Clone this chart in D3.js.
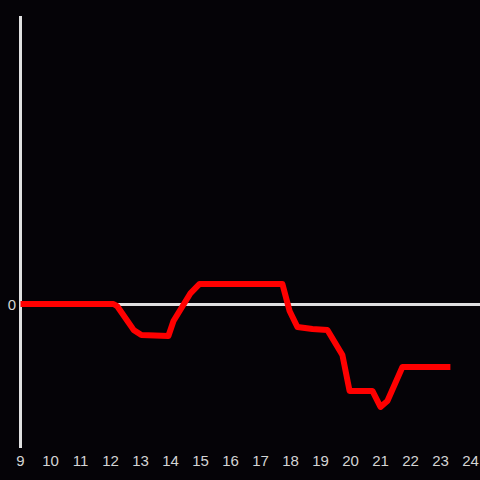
<!DOCTYPE html>
<html>
<head>
<meta charset="utf-8">
<script src="https://cdn.jsdelivr.net/npm/d3@7"></script>
<style>
  html, body { margin: 0; padding: 0; background: #050307; }
  svg { display: block; }
</style>
</head>
<body>
<svg id="chart" width="480" height="480"></svg>
<script>
// hours of day
const hours = [9, 12.1, 12.22, 12.77, 13.03, 13.93, 14.1, 14.67, 14.97, 17.73, 17.97, 18.23, 18.73, 19.23, 19.73, 19.97, 20.73, 21.0, 21.23, 21.73, 23.33];
// values
const values = [0, 0, -0.014, -0.18, -0.215, -0.222, -0.118, 0.076, 0.139, 0.139, -0.049, -0.16, -0.174, -0.18, -0.354, -0.604, -0.604, -0.715, -0.674, -0.4375, -0.4375];
const xTicks = [9, 10, 11, 12, 13, 14, 15, 16, 17, 18, 19, 20, 21, 22, 23, 24];
const yTicks = [0];

const svg = d3.select('#chart');

const x = d3.scaleLinear().domain([9, 24]).range([20.5, 470.5]);
const y = d3.scaleLinear().domain([-1, 2]).range([448, 16]);

const axisColor = '#e0e0e0';
const textColor = '#d4d4d4';
const font = 'Liberation Sans, Arial, sans-serif';

// zero line
svg.append('line')
  .attr('x1', x(9))
  .attr('x2', 480)
  .attr('y1', y(0) + 0.5)
  .attr('y2', y(0) + 0.5)
  .attr('stroke', axisColor)
  .attr('stroke-width', 3);

// y axis line
svg.append('line')
  .attr('x1', x(9))
  .attr('x2', x(9))
  .attr('y1', y(2))
  .attr('y2', y(-1))
  .attr('stroke', axisColor)
  .attr('stroke-width', 3);

// x tick labels
svg.append('g')
  .selectAll('text')
  .data(xTicks)
  .enter()
  .append('text')
  .attr('x', d => x(d))
  .attr('y', 466)
  .attr('text-anchor', 'middle')
  .attr('font-family', font)
  .attr('font-size', '15px')
  .attr('fill', textColor)
  .text(d => d);

// y tick labels
svg.append('g')
  .selectAll('text')
  .data(yTicks)
  .enter()
  .append('text')
  .attr('x', 16)
  .attr('y', d => y(d) + 5.5)
  .attr('text-anchor', 'end')
  .attr('font-family', font)
  .attr('font-size', '15px')
  .attr('fill', textColor)
  .text(d => d);

// line
const line = d3.line()
  .x((d, i) => x(hours[i]))
  .y(d => y(d));

svg.append('path')
  .datum(values)
  .attr('d', line)
  .attr('fill', 'none')
  .attr('stroke', '#ff0000')
  .attr('stroke-width', 6)
  .attr('stroke-linejoin', 'round');
</script>
</body>
</html>
